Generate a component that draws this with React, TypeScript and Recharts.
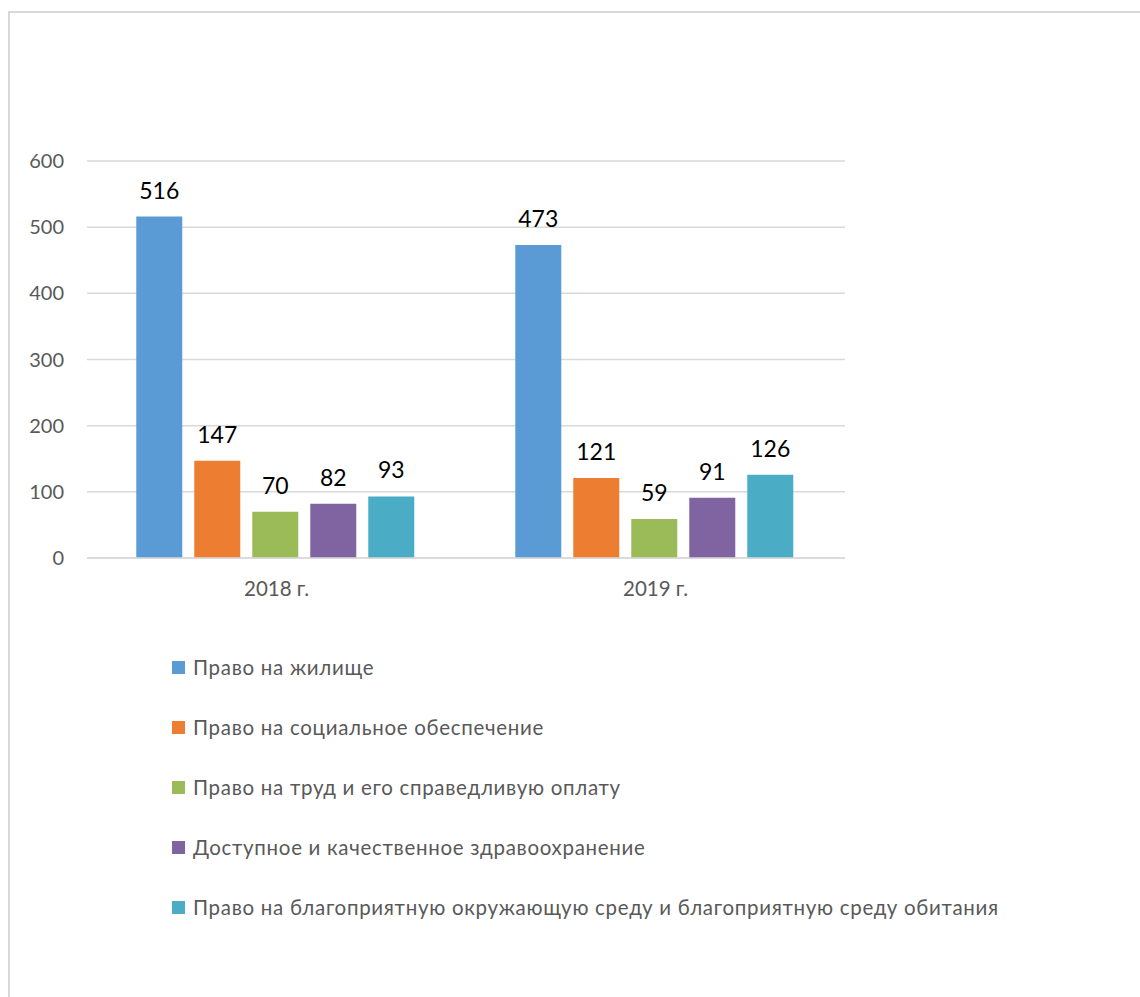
import React from "react";
import { BarChart, Bar, XAxis, YAxis, CartesianGrid, LabelList, Legend } from "recharts";

const categories = ["2018 г.", "2019 г."];
const seriesNames = [
  "Право на жилище",
  "Право на социальное обеспечение",
  "Право на труд и его справедливую оплату",
  "Доступное и качественное здравоохранение",
  "Право на благоприятную окружающую среду и благоприятную среду обитания",
];
const housing = [516, 473];
const social = [147, 121];
const labour = [70, 59];
const health = [82, 91];
const environment = [93, 126];
const yTicks = [0, 100, 200, 300, 400, 500, 600];

const colors = ["#5B9BD5", "#ED7D31", "#9BBB59", "#8064A2", "#4BACC6"];
const keys = ["s0", "s1", "s2", "s3", "s4"];
const seriesValues = [housing, social, labour, health, environment];

const data = categories.map((c, i) => {
  const row: Record<string, string | number> = { name: c };
  seriesValues.forEach((vals, k) => {
    row[keys[k]] = vals[i];
  });
  return row;
});

const FONT = "Lato, 'Open Sans', sans-serif";

const LegendContent = () => (
  <div style={{ fontFamily: FONT }}>
    {seriesNames.map((n, i) => (
      <div
        key={n}
        style={{ height: 60, display: "flex", alignItems: "center", whiteSpace: "nowrap" }}
      >
        <span
          style={{ display: "inline-block", width: 13, height: 13, background: colors[i], marginRight: 8 }}
        />
        <span style={{ fontSize: 20.5, letterSpacing: 0.7, color: "#595959" }}>{n}</span>
      </div>
    ))}
  </div>
);

export default function App() {
  return (
    <div
      style={{
        position: "fixed",
        left: 8,
        top: 11,
        width: 1132,
        height: 986,
        borderLeft: "2px solid #d9d9d9",
        borderTop: "2px solid #d9d9d9",
        background: "#fff",
      }}
    >
      <BarChart
        width={1100}
        height={980}
        data={data}
        margin={{ top: 148, right: 265, left: 0, bottom: 105 }}
        barCategoryGap="13%"
        barGap={12}
      >
        <CartesianGrid vertical={false} stroke="#d9d9d9" strokeWidth={1.5} />
        <XAxis
          dataKey="name"
          height={30}
          tickLine={false}
          tickSize={0}
          tickMargin={23}
          axisLine={{ stroke: "#d9d9d9", strokeWidth: 1.5 }}
          tick={{ fill: "#595959", fontSize: 20.5, fontFamily: FONT }}
        />
        <YAxis
          width={77}
          domain={[0, 600]}
          ticks={yTicks}
          interval={0}
          tickLine={false}
          axisLine={false}
          tickSize={0}
          tickMargin={23}
          tick={{ fill: "#595959", fontSize: 20, fontFamily: FONT }}
        />
        <Legend
          verticalAlign="bottom"
          layout="horizontal"
          content={<LegendContent />}
          wrapperStyle={{ top: 624, left: 162, width: "auto" }}
        />
        {keys.map((k, i) => (
          <Bar key={k} dataKey={k} name={seriesNames[i]} fill={colors[i]} isAnimationActive={false}>
            <LabelList
              dataKey={k}
              position="top"
              offset={18}
              style={{ fill: "#000", fontSize: 23, fontFamily: FONT }}
            />
          </Bar>
        ))}
      </BarChart>
    </div>
  );
}
